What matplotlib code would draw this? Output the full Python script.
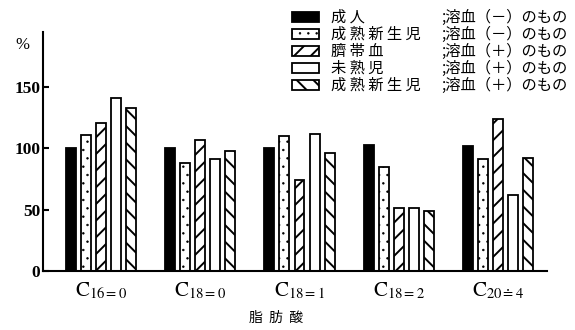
import numpy as np
import matplotlib
matplotlib.use("Agg")
import matplotlib.pyplot as plt
from matplotlib.patches import Patch

plt.rcParams["font.family"] = ["Noto Sans CJK JP", "DejaVu Sans"]
plt.rcParams["mathtext.fontset"] = "stix"
plt.rcParams["hatch.linewidth"] = 1.4

# data (% of adult value)
acids = [r"$\mathrm{C}_{16=0}$", r"$\mathrm{C}_{18=0}$", r"$\mathrm{C}_{18=1}$",
         r"$\mathrm{C}_{18=2}$", r"$\mathrm{C}_{20\doteq4}$"]
adult = [100, 100, 100, 103, 102]
mature_neg = [111, 88, 110, 85, 91]
cord_pos = [121, 107, 74, 51, 124]
premature_pos = [141, 91, 112, 51, 62]
mature_pos = [133, 98, 96, 49, 92]

names = ["成人", "成熟新生児", "臍帯血", "未熟児", "成熟新生児"]
suffixes = [";溶血（－）のもの", ";溶血（－）のもの", ";溶血（＋）のもの",
            ";溶血（＋）のもの", ";溶血（＋）のもの"]

series = [adult, mature_neg, cord_pos, premature_pos, mature_pos]
styles = [dict(color="black", hatch=None, hlw=1.4),
          dict(color="white", hatch="..", hlw=0.5),
          dict(color="white", hatch="//", hlw=1.4),
          dict(color="white", hatch=None, hlw=1.4),
          dict(color="white", hatch="\\\\", hlw=1.4)]

fig = plt.figure(figsize=(5.75, 3.3), dpi=100)
ax = fig.add_axes([43 / 575, 1 - 271 / 330, (547 - 43) / 575, (271 - 32) / 330])

x = np.arange(len(acids))
pitch, width = 0.1515, 0.10
handles = []
for i, (vals, st) in enumerate(zip(series, styles)):
    b = ax.bar(x + (i - 2) * pitch, vals, width, facecolor=st["color"],
               edgecolor="black", linewidth=1.3, hatch=st["hatch"], zorder=2)
    for p in b:
        p.set_hatch_linewidth(st["hlw"])
    handles.append(b)

ax.set_xlim(-0.58, 4.49)
ax.set_ylim(0, 195)
ax.spines["top"].set_visible(False)
ax.spines["right"].set_visible(False)
for s in ("left", "bottom"):
    ax.spines[s].set_linewidth(1.5)
ax.set_yticks([0, 50, 100, 150])
ax.set_yticklabels(["0", "50", "100", "150"], family="Liberation Serif",
                   fontweight="bold", fontsize=12.5)
ax.tick_params(axis="y", direction="in", length=4, width=1.5, pad=2)
ax.set_xticks(x)
ax.set_xticklabels(acids, fontsize=15)
ax.tick_params(axis="x", length=0, pad=6)

fig.text(22 / 575, 1 - 45 / 330, "%", family="Liberation Serif", fontsize=12,
         ha="center", va="center")
fig.text(276 / 575, 1 - 318 / 330, "脂  肪  酸", fontsize=10, ha="center", va="center")

# legend: names column with swatches, second legend for the ";溶血..." column
leg_kw = dict(frameon=False, fontsize=11, handleheight=0.65, labelspacing=0.0,
              borderaxespad=0, borderpad=0, loc="upper left")
leg1 = fig.legend(handles, [" ".join(n) for n in names],
                  bbox_to_anchor=(292 / 575, 1 - 9 / 330),
                  handlelength=1.75, handletextpad=0.8, **leg_kw)
for h, st in zip(leg1.legend_handles, styles):
    h.set_hatch_linewidth(st["hlw"])
blank = [Patch(visible=False) for _ in suffixes]
fig.legend(blank, suffixes, bbox_to_anchor=(441 / 575, 1 - 9 / 330),
           handlelength=0, handletextpad=0, **leg_kw)

fig.savefig("out.png", dpi=100)
